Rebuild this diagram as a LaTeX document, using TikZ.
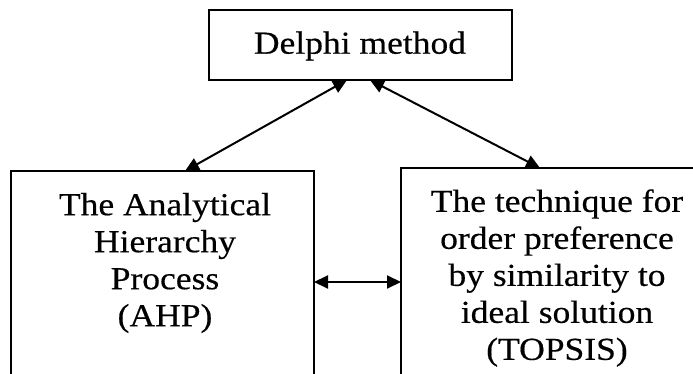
\documentclass[tikz,border=0pt]{standalone}
\usepackage{fontspec}
\setmainfont{Liberation Serif}[FakeStretch=1.11,FakeBold=0.4]
\usetikzlibrary{arrows.meta,calc}
\begin{document}
\begin{tikzpicture}[x=1pt,y=-1pt,
  box/.style={draw,line width=2pt,inner sep=0pt,outer sep=0pt},
  txt/.style={align=center,inner sep=0pt,font=\fontsize{32}{37}\selectfont},
  conn/.style={line width=2pt,{Triangle[length=14pt,width=13pt]}-{Triangle[length=14pt,width=13pt]}}]
\clip (0,0) rectangle (693,374);
\fill[white] (0,0) rectangle (693,374);
\node[box,minimum width=303pt,minimum height=70pt] (delphi) at (360.5,45) {};
\node[box,minimum width=303pt,minimum height=249pt] (left) at (162.5,295.5) {};
\node[box,minimum width=312pt,minimum height=252pt] (right) at (557,294) {};
\node[txt] (tdelphi) at (360,46) {Delphi method};
\node[txt] (tleft) at (165,263) {The Analytical\\Hierarchy\\Process\\(AHP)};
\node[txt] (tright) at (557,278) {The technique for\\order preference\\by similarity to\\ideal solution\\(TOPSIS)};
\coordinate (hy) at (0,282);
\draw[conn] ($(delphi.south)+(-13.5,0)$) -- ($(left.north)+(22.5,0)$);
\draw[conn] ($(delphi.south)+(9.5,0)$) -- ($(right.north)+(-17,0)$);
\draw[conn] (left.east |- hy) -- (right.west |- hy);
\end{tikzpicture}
\end{document}
